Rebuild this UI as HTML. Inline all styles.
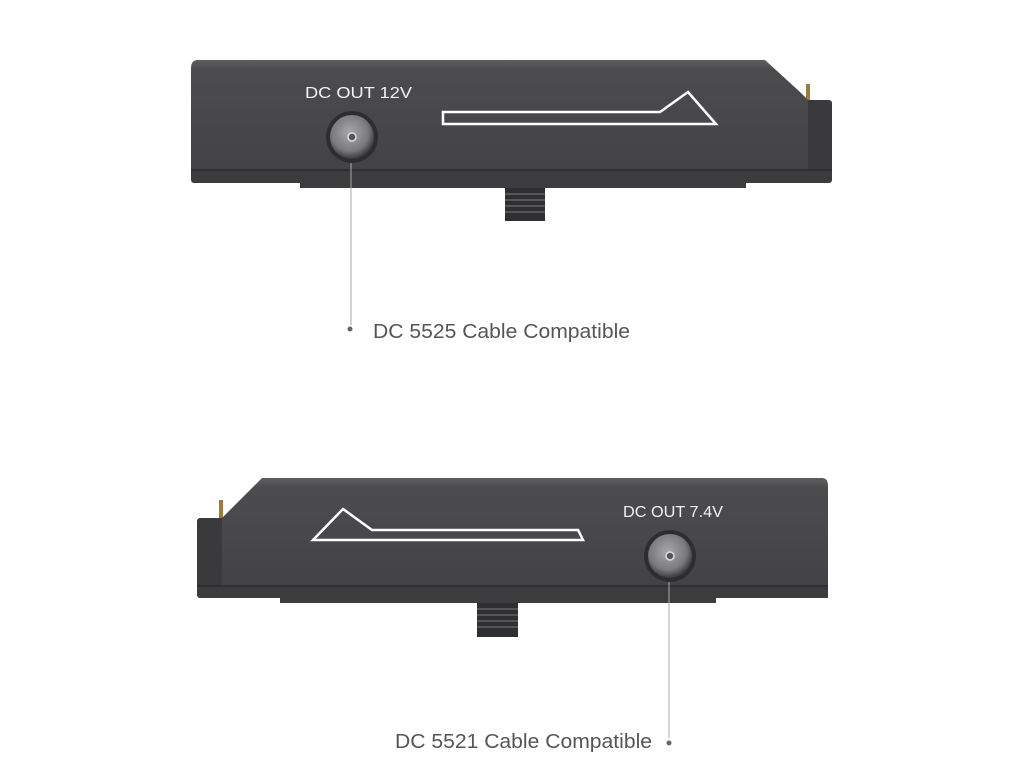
<!DOCTYPE html>
<html><head><meta charset="utf-8"><style>html,body{margin:0;padding:0;background:#fff;}svg{display:block}</style></head>
<body>
<svg width="1024" height="768" viewBox="0 0 1024 768" xmlns="http://www.w3.org/2000/svg">
<defs>
<linearGradient id="bd" x1="0" y1="0" x2="0" y2="1">
<stop offset="0" stop-color="#5e5e60"/><stop offset="0.08" stop-color="#4c4c4e"/><stop offset="1" stop-color="#424244"/>
</linearGradient>
<radialGradient id="jk" cx="0.45" cy="0.4" r="0.6">
<stop offset="0" stop-color="#a8a8aa"/><stop offset="0.7" stop-color="#7a7a7c"/><stop offset="1" stop-color="#3a3a3c"/>
</radialGradient>
</defs>
<!-- TOP DEVICE -->
<rect x="805" y="100" width="27" height="80" rx="3" fill="#3a3a3c"/>
<rect x="806" y="84" width="4" height="16" fill="#9a7a40"/>
<path d="M198 60 L765 60 L800 92 L808 100 L808 183 L196 183 Q191 183 191 178 L191 68 Q191 60 198 60 Z" fill="url(#bd)"/>
<rect x="191" y="170" width="641" height="13" rx="3" fill="#3c3c3e"/>
<line x1="191" y1="170" x2="832" y2="170" stroke="#2a2a2c" stroke-width="1.5"/>
<rect x="300" y="183" width="446" height="5" fill="#3c3c3e"/>
<rect x="505" y="188" width="40" height="33" fill="#2f2f31"/>
<g stroke="#555" stroke-width="2"><line x1="505" y1="194" x2="545" y2="194"/><line x1="505" y1="200" x2="545" y2="200"/><line x1="505" y1="206" x2="545" y2="206"/><line x1="505" y1="212" x2="545" y2="212"/></g>
<text x="305" y="98" font-family="Liberation Sans, sans-serif" font-size="16" fill="#f2f2f2" textLength="107" lengthAdjust="spacingAndGlyphs">DC OUT 12V</text>
<circle cx="352" cy="137" r="26" fill="#2e2e30"/>
<circle cx="352" cy="137" r="22" fill="url(#jk)"/>
<circle cx="352" cy="137" r="4" fill="#555" stroke="#ddd" stroke-width="1.5"/>
<path d="M443 112 L660 112 L688 92 L716 124 L443 124 Z" fill="none" stroke="#fff" stroke-width="2.5"/>
<line x1="351" y1="163" x2="351" y2="325" stroke="#aaa" stroke-width="1"/>
<circle cx="350" cy="329" r="2.5" fill="#666"/>
<text x="373" y="338" font-family="Liberation Sans, sans-serif" font-size="20" fill="#555" textLength="257" lengthAdjust="spacingAndGlyphs">DC 5525 Cable Compatible</text>
<!-- BOTTOM DEVICE -->
<rect x="197" y="518" width="28" height="72" rx="3" fill="#3a3a3c"/>
<rect x="219" y="500" width="4" height="18" fill="#9a7a40"/>
<path d="M262 478 L822 478 Q828 478 828 486 L828 598 L222 598 L222 518 Z" fill="url(#bd)"/>
<rect x="197" y="586" width="631" height="12" rx="3" fill="#3c3c3e"/>
<line x1="197" y1="586" x2="828" y2="586" stroke="#2a2a2c" stroke-width="1.5"/>
<rect x="280" y="598" width="436" height="5" fill="#3c3c3e"/>
<rect x="477" y="603" width="41" height="34" fill="#2f2f31"/>
<g stroke="#555" stroke-width="2"><line x1="477" y1="609" x2="518" y2="609"/><line x1="477" y1="615" x2="518" y2="615"/><line x1="477" y1="621" x2="518" y2="621"/><line x1="477" y1="627" x2="518" y2="627"/></g>
<text x="623" y="517" font-family="Liberation Sans, sans-serif" font-size="16" fill="#f2f2f2" textLength="100" lengthAdjust="spacingAndGlyphs">DC OUT 7.4V</text>
<circle cx="670" cy="556" r="26" fill="#2e2e30"/>
<circle cx="670" cy="556" r="22" fill="url(#jk)"/>
<circle cx="670" cy="556" r="4" fill="#555" stroke="#ddd" stroke-width="1.5"/>
<path d="M313 540 L343 509 L372 530 L578 530 L583 540 Z" fill="none" stroke="#fff" stroke-width="2.5"/>
<line x1="669" y1="582" x2="669" y2="738" stroke="#aaa" stroke-width="1"/>
<circle cx="669" cy="743" r="2.5" fill="#666"/>
<text x="395" y="748" font-family="Liberation Sans, sans-serif" font-size="20" fill="#555" textLength="257" lengthAdjust="spacingAndGlyphs">DC 5521 Cable Compatible</text>
</svg>
</body></html>
